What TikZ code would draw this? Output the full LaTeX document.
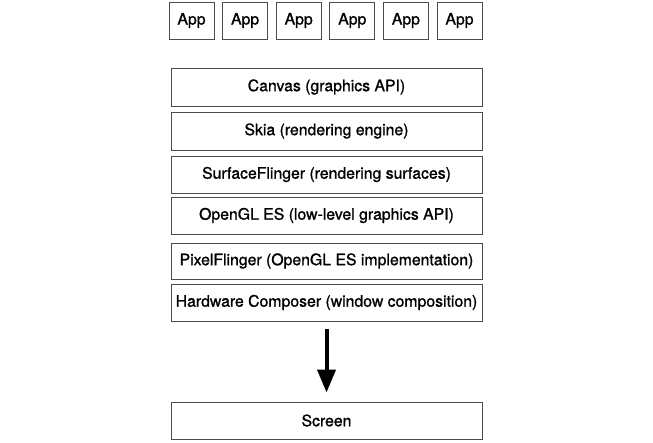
\documentclass[tikz,border=0pt]{standalone}
\usepackage{fontspec}
\setmainfont{TeX Gyre Heros}
\newfontfamily\medfont[FakeBold=1.1]{TeX Gyre Heros}
\usetikzlibrary{arrows.meta}

\tikzset{
  appbox/.style={rectangle, draw=black!70, line width=0.9pt, minimum width=45pt, minimum height=37pt, inner sep=1pt, font=\medfont\fontsize{15.8}{18}\selectfont},
  layerbox/.style={rectangle, draw=black!70, line width=0.9pt, minimum width=311pt, minimum height=37pt, inner sep=1pt, font=\medfont\fontsize{15.8}{18}\selectfont},
  flow/.style={-{Triangle[width=18pt,length=23pt]}, line width=4pt}
}

\begin{document}
\begin{tikzpicture}[x=1pt, y=-1pt]
        \useasboundingbox (0,0) rectangle (653,442);

        % Nodes
        \node (app1) [appbox] at (191.5, 20.5) {App};
        \node (app2) [appbox] at (245.1, 20.5) {App};
        \node (app3) [appbox] at (298.7, 20.5) {App};
        \node (app4) [appbox] at (352.3, 20.5) {App};
        \node (app5) [appbox] at (405.9, 20.5) {App};
        \node (app6) [appbox] at (459.5, 20.5) {App};

        \node (canvas) [layerbox, minimum height=38pt] at (326.5, 87) {Canvas (graphics API)};
        \node (skia) [layerbox, minimum height=38pt] at (326.5, 131) {Skia (rendering engine)};
        \node (sflinger) [layerbox] at (326.5, 174.5) {SurfaceFlinger (rendering surfaces)};
        \node (opengl) [layerbox] at (326.5, 215.5) {OpenGL ES (low-level graphics API)};
        \node (pflinger) [layerbox, minimum height=36pt] at (326.5, 261) {PixelFlinger (OpenGL ES implementation)};
        \node (hwc) [layerbox] at (326.5, 302.5) {Hardware Composer (window composition)};

        \node (screen) [layerbox] at (326.5, 420.5) {Screen};

        % Edges
        \draw[flow, shorten <=8pt, shorten >=9pt] (hwc) -- (screen);
    \end{tikzpicture}
\end{document}
